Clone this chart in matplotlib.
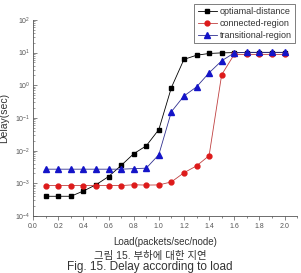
import matplotlib
matplotlib.use("Agg")
import matplotlib.pyplot as plt
from matplotlib.ticker import LogLocator, MultipleLocator, NullFormatter

plt.rcParams['font.family'] = ['Liberation Sans', 'Noto Sans CJK KR', 'DejaVu Sans']

# 부하 (packets/sec/node)
load = [0.1, 0.2, 0.3, 0.4, 0.5, 0.6, 0.7, 0.8, 0.9, 1.0,
        1.1, 1.2, 1.3, 1.4, 1.5, 1.6, 1.7, 1.8, 1.9, 2.0]

optimal_distance = [4.0e-4, 4.0e-4, 4.0e-4, 5.8e-4, 9.0e-4, 1.6e-3, 3.5e-3, 8.0e-3, 1.4e-2, 4.4e-2,
                    0.85, 6.2, 8.3, 9.4, 9.8, 10.0, 10.0, 10.0, 10.0, 10.0]
connected_region = [8.5e-4, 8.5e-4, 8.5e-4, 8.5e-4, 8.5e-4, 8.5e-4, 8.5e-4, 9.0e-4, 8.8e-4, 8.9e-4,
                    1.1e-3, 2.1e-3, 3.4e-3, 7.0e-3, 2.1, 8.8, 8.8, 8.8, 8.8, 8.8]
transitional_region = [2.7e-3, 2.7e-3, 2.7e-3, 2.7e-3, 2.7e-3, 2.7e-3, 2.7e-3, 2.8e-3, 2.9e-3, 7.5e-3,
                       0.155, 0.47, 0.89, 2.4, 5.6, 9.8, 10.2, 10.2, 10.2, 10.2]

fig = plt.figure(figsize=(3.01, 2.73), dpi=100)
ax = fig.add_axes([0.110, 0.209, 0.877, 0.718])

ax.plot(load, optimal_distance, color='black', lw=0.6, marker='s', ms=3.2,
        mfc='black', mec='black', label='optiamal-distance')
ax.plot(load, connected_region, color='#c04040', lw=0.6, marker='o', ms=3.5,
        mfc='#dd1a1a', mec='#dd1a1a', label='connected-region')
ax.plot(load, transitional_region, color='#303090', lw=0.6, marker='^', ms=3.8,
        mfc='#1414c8', mec='#1414c8', label='transitional-region')

ax.set_yscale('log')
ax.set_ylim(1e-4, 1e2)
ax.set_xlim(0.0, 2.1)
ax.xaxis.set_major_locator(MultipleLocator(0.2))
ax.xaxis.set_minor_locator(MultipleLocator(0.1))
ax.set_xticks([0.0, 0.2, 0.4, 0.6, 0.8, 1.0, 1.2, 1.4, 1.6, 1.8, 2.0])
ax.set_xticklabels(['0.0', '0.2', '0.4', '0.6', '0.8', '1.0', '1.2', '1.4', '1.6', '1.8', '2.0'])
ax.yaxis.set_major_locator(LogLocator(base=10, numticks=10))
ax.yaxis.set_minor_locator(LogLocator(base=10, subs=range(2, 10), numticks=20))
ax.yaxis.set_minor_formatter(NullFormatter())

for s in ['top', 'right']:
    ax.spines[s].set_visible(False)
for s in ['left', 'bottom']:
    ax.spines[s].set_linewidth(0.6)
    ax.spines[s].set_color('#555555')

ax.tick_params(axis='x', which='major', direction='out', length=3, width=0.5,
               labelsize=5, colors='#555555', pad=2)
ax.tick_params(axis='x', which='minor', direction='out', length=1.5, width=0.5, colors='#555555')
ax.tick_params(axis='y', which='major', direction='in', length=3, width=0.5,
               labelsize=5, colors='#555555', pad=2)
ax.tick_params(axis='y', which='minor', direction='in', length=1.5, width=0.4, colors='#555555')

ax.set_xlabel('Load(packets/sec/node)', fontsize=7, color='#333333', labelpad=5)
ax.set_ylabel('Delay(sec)', fontsize=7.5, color='#333333', labelpad=4)

leg = ax.legend(loc='upper right', bbox_to_anchor=(1.0, 1.09), fontsize=6.5,
                frameon=True, fancybox=False, borderpad=0.35, labelspacing=0.3,
                handlelength=2.2, handletextpad=0.3, borderaxespad=0.2)
leg.get_frame().set_edgecolor('#444444')
leg.get_frame().set_linewidth(0.6)
for t in leg.get_texts():
    t.set_color('#333333')

# 그림 캡션
fig.text(0.498, 0.064, '그림 15. 부하에 대한 지연', fontsize=7.5, color='#333333',
         ha='center', va='center')
fig.text(0.498, 0.022, 'Fig. 15. Delay according to load', fontsize=8.5, color='#333333',
         ha='center', va='center')

fig.savefig('out.png', dpi=100)
